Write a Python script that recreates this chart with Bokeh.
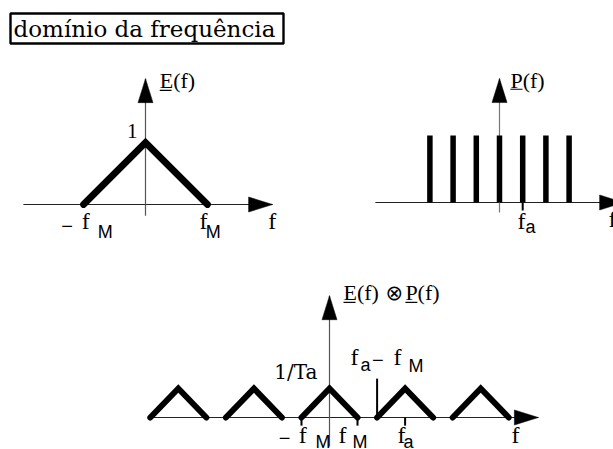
from bokeh.plotting import figure
from bokeh.models import Range1d
from bokeh.core.properties import value
from bokeh.embed import file_html
from bokeh.resources import INLINE

W, H = 613, 449

# E(f): triangular spectrum, frequency in units of f_M, amplitude normalised to 1
e_freq = [-1.0, 0.0, 1.0]
e_amp = [0.0, 1.0, 0.0]

# P(f): impulse train at multiples of the sampling frequency f_a
p_orders = [-3, -2, -1, 0, 1, 2, 3]
p_amp = [1.0, 1.0, 1.0, 1.0, 1.0, 1.0, 1.0]

# E(f) (x) P(f): copies of E(f) centred on k*f_a, height 1/Ta (f_a expressed in f_M)
fa_in_fm = 2.7
conv_orders = [-2, -1, 0, 1, 2]
conv_height = 1.0

SERIF = value("Liberation Serif")
WIDE_SERIF = value("DejaVu Serif")
SANS = value("Liberation Sans")

p = figure(width=W, height=H, output_backend="svg", toolbar_location=None,
           x_range=Range1d(0, W), y_range=Range1d(0, H), min_border=0,
           x_axis_location=None, y_axis_location=None)
p.grid.visible = False
p.outline_line_color = None
p.background_fill_color = "white"
p.border_fill_color = "white"


def panel(name, ox, oy, sx, sy):
    """Extra ranges whose origin sits at (ox, oy) px from the top-left corner."""
    p.extra_x_ranges[name] = Range1d(-ox / sx, (W - ox) / sx)
    p.extra_y_ranges[name] = Range1d(-(H - oy) / sy, oy / sy)
    return dict(x_range_name=name, y_range_name=name), sx, sy


def axes(r, sx, sy, x0, x1, y0, y1, hcol="#222222", vcol="#555555"):
    p.segment(x0=[x0], y0=[0], x1=[x1], y1=[0], line_color=hcol, line_width=1.2, **r)
    p.segment(x0=[0], y0=[y0], x1=[0], y1=[y1], line_color=vcol, line_width=1.2, **r)
    L, w = 24, 7.5
    p.patch(x=[x1, x1 - L / sx, x1 - L / sx], y=[0, w / sy, -w / sy],
            fill_color="black", line_color="black", line_width=0.5, **r)
    p.patch(x=[0, w / sx, -w / sx], y=[y1, y1 - L / sy, y1 - L / sy],
            fill_color="black", line_color="black", line_width=0.5, **r)


def label(r, x, y, txt, font=SERIF, size="24px", align="left"):
    p.text(x=[x], y=[y], text=[txt], text_font=font, text_font_size=size,
           text_align=align, text_baseline="middle", text_color="black", **r)


def underline(r, xa, xb, y):
    p.segment(x0=[xa], y0=[y], x1=[xb], y1=[y], line_color="black", line_width=1.2, **r)


# ---- heading box ----
p.quad(left=[10], right=[283], top=[H - 13], bottom=[H - 43],
       fill_color=None, line_color="black", line_width=2.4)
p.text(x=[13], y=[H - 28], text=["domínio da frequência"], text_font=WIDE_SERIF,
       text_font_size="23px", text_baseline="middle", text_color="black")

# ---- E(f) ----
r1, sx1, sy1 = panel("e", 145, 204, 62, 62)
axes(r1, sx1, sy1, -1.97, 2.05, -0.18, 2.03)
p.line(x=e_freq, y=e_amp, line_width=6.8, line_color="black",
       line_join="miter", line_cap="round", **r1)
label(r1, -0.13, 1.19, "1", size="21px", align="right")
label(r1, 0.23, 2.0, "E(f)", size="22px")
underline(r1, 0.23, 0.42, 1.84)
label(r1, -1.36, -0.34, "−", font=SANS, size="20px")
label(r1, -1.03, -0.27, "f")
label(r1, -0.77, -0.44, "M", font=SANS, size="18px")
label(r1, 0.87, -0.27, "f")
label(r1, 0.97, -0.44, "M", font=SANS, size="18px")
label(r1, 1.98, -0.27, "f")

# ---- P(f) ----
r2, sx2, sy2 = panel("p", 499, 202, 23.2, 67)
axes(r2, sx2, sy2, -5.35, 5.35, -0.15, 1.85, vcol="#777777")
p.segment(x0=p_orders, y0=[0] * len(p_orders), x1=p_orders, y1=p_amp,
          line_width=5.5, line_color="black", **r2)
p.segment(x0=[1], y0=[0], x1=[1], y1=[-0.12], line_width=2, line_color="black", **r2)
label(r2, 0.47, 1.82, "P(f)", size="22px")
underline(r2, 0.47, 0.99, 1.69)
label(r2, 0.78, -0.27, "f")
label(r2, 1.12, -0.37, "a", font=SANS, size="18px")
label(r2, 4.7, -0.25, "f")

# ---- E(f) (x) P(f) ----
r3, sx3, sy3 = panel("c", 329, 417, 28, 29)
axes(r3, sx3, sy3, -6.46, 7.46, -1.0, 4.2)
xs = [[k * fa_in_fm + f for f in e_freq] for k in conv_orders]
ys = [[a * conv_height for a in e_amp] for _ in conv_orders]
p.multi_line(xs=xs, ys=ys, line_width=6, line_color="black",
             line_join="miter", line_cap="round", **r3)
tick_x = [-1.0, 1.0, fa_in_fm]
p.segment(x0=tick_x, y0=[0] * 3, x1=tick_x, y1=[-0.28] * 3,
          line_width=2, line_color="black", **r3)
p.segment(x0=[fa_in_fm - 1], y0=[0], x1=[fa_in_fm - 1], y1=[1.34],
          line_width=2, line_color="black", **r3)
label(r3, 0.5, 4.31, "E(f)", size="22px")
label(r3, 2.0, 4.31, "⊗", font=value("DejaVu Sans"), size="21px")
label(r3, 2.71, 4.31, "P(f)", size="22px")
underline(r3, 0.5, 0.93, 3.97)
underline(r3, 2.71, 3.14, 3.97)
label(r3, -0.43, 1.57, "1/Ta", font=WIDE_SERIF, size="20px", align="right")
label(r3, 0.75, 2.10, "f")
label(r3, 1.11, 1.81, "a", font=SANS, size="18px")
label(r3, 1.52, 1.97, "−", font=SANS, size="20px")
label(r3, 2.29, 2.10, "f")
label(r3, 2.82, 1.76, "M", font=SANS, size="18px")
label(r3, -1.81, -0.69, "−", font=SANS, size="20px")
label(r3, -1.1, -0.62, "f")
label(r3, -0.5, -0.86, "M", font=SANS, size="18px")
label(r3, 0.32, -0.62, "f")
label(r3, 0.82, -0.86, "M", font=SANS, size="18px")
label(r3, 2.43, -0.62, "f")
label(r3, 2.64, -0.86, "a", font=SANS, size="18px")
label(r3, 6.5, -0.62, "f")

open("out.html", "w").write(file_html(p, INLINE))
